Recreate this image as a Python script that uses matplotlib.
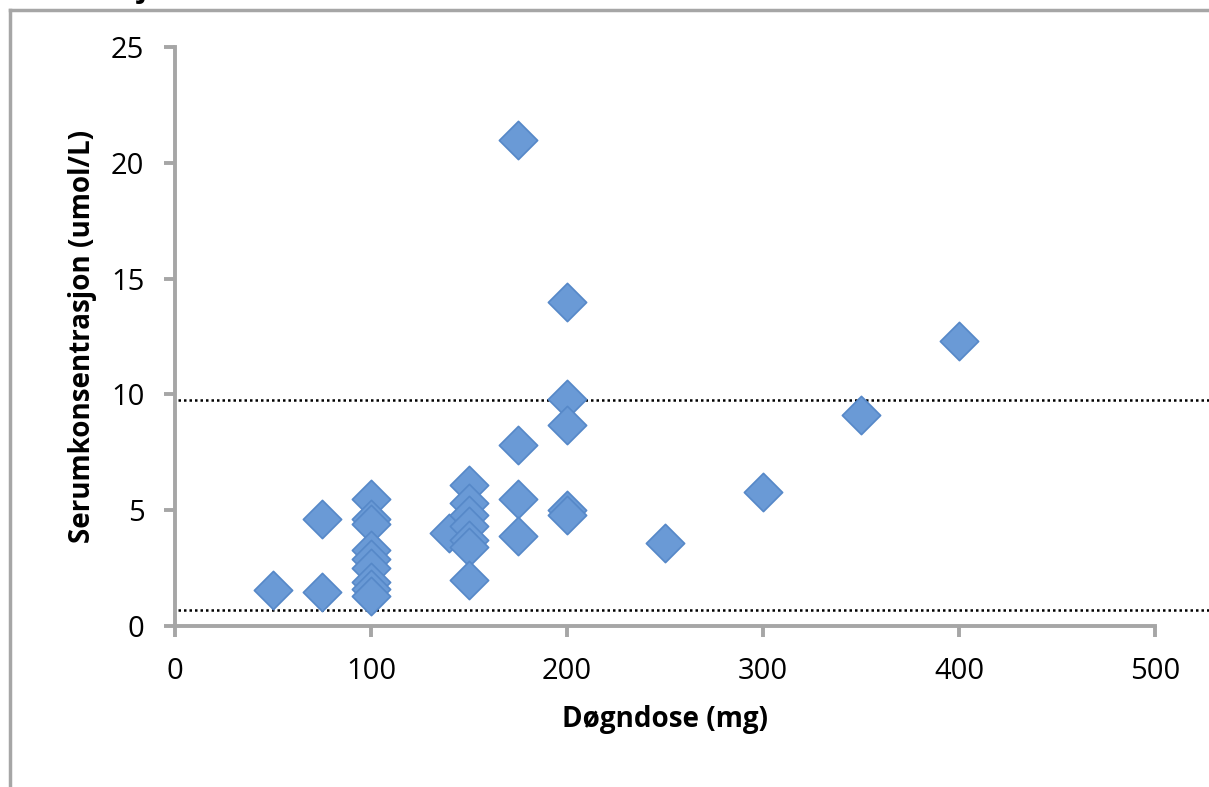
import matplotlib.pyplot as plt
from matplotlib.lines import Line2D
import matplotlib.transforms as mtransforms

plt.rcParams['font.family'] = ['Open Sans', 'DejaVu Sans']

# Dose (mg) og serumkonsentrasjon (umol/L)
dose = [50, 75, 75,
        100, 100, 100, 100, 100, 100, 100, 100, 100,
        140, 150, 150, 150, 150, 150, 150, 150,
        175, 175, 175, 175,
        200, 200, 200, 200, 200,
        250, 300, 350, 400]
konsentrasjon = [1.55, 1.45, 4.6,
                 5.5, 4.6, 4.4, 3.3, 2.9, 2.5, 1.9, 1.6, 1.3,
                 4.0, 6.1, 5.3, 4.8, 4.3, 3.7, 3.4, 2.0,
                 21.0, 7.8, 5.5, 3.9,
                 14.0, 9.8, 8.7, 5.0, 4.8,
                 3.6, 5.8, 9.1, 12.3]
# Referanseområde (stiplede linjer)
ref_linjer = [9.75, 0.7]

x_ticks = [0, 100, 200, 300, 400, 500]
y_ticks = [0, 5, 10, 15, 20, 25]

W, H = 1209, 787
fig = plt.figure(figsize=(W / 100, H / 100), dpi=100)
ax = fig.add_axes([175 / W, 1 - 626 / H, 980 / W, 579 / H])

grey = '#a6a6a6'

# Ytre ramme (diagramområde)
fig.add_artist(Line2D([10 / W, 10 / W], [0, 1 - 10 / H], color=grey, lw=2.5,
                      transform=fig.transFigure))
fig.add_artist(Line2D([10 / W, 1], [1 - 10 / H, 1 - 10 / H], color=grey, lw=2.5,
                      transform=fig.transFigure))
# avkuttet tittel (bare nederste del synes)
fig.text(142 / W, 1 + 3 / H, 'j', fontsize=21, fontweight='bold', ha='center',
         va='baseline')

trans = mtransforms.blended_transform_factory(ax.transAxes, ax.transData)
for y in ref_linjer:
    ax.plot([3 / 980, (W - 175) / 980], [y, y], color='black', lw=1.8,
            linestyle=(0, (1, 1.2)), transform=trans, clip_on=False, zorder=1)

ax.scatter(dose, konsentrasjon, marker='D', s=380, color='#6a9ad6',
           edgecolor='#5688c8', linewidth=1.2, zorder=3, clip_on=False)

ax.set_xlim(0, 500)
ax.set_ylim(0, 25)
ax.set_xticks(x_ticks)
ax.set_yticks(y_ticks)

for s in ['top', 'right']:
    ax.spines[s].set_visible(False)
for s in ['left', 'bottom']:
    ax.spines[s].set_color(grey)
    ax.spines[s].set_linewidth(2.8)
ax.tick_params(axis='both', colors=grey, width=2.8, length=8, direction='out',
               labelsize=21, labelcolor='black', pad=14)

ax.set_xlabel('Døgndose (mg)', fontsize=20, fontweight='bold', labelpad=14)
ax.set_ylabel('Serumkonsentrasjon (umol/L)', fontsize=20, fontweight='bold',
              labelpad=10)

fig.savefig('out.png', dpi=100)
